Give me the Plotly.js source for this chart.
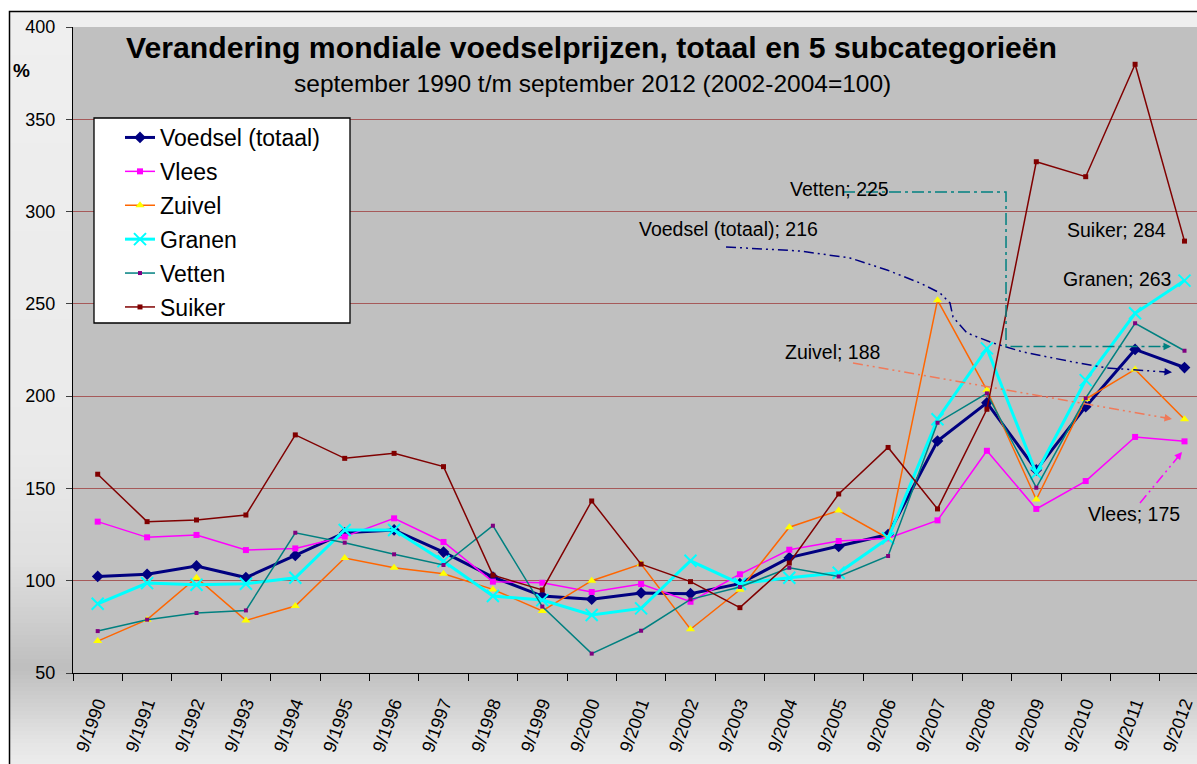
<!DOCTYPE html>
<html>
<head>
<meta charset="utf-8">
<script src="https://cdn.plot.ly/plotly-3.0.1.min.js"></script>
<style>
html,body{margin:0;padding:0;background:#ffffff;}
#chart{width:1197px;height:764px;}
</style>
</head>
<body>
<div id="chart"></div>
<script>
// ---------- data ----------
var categories = ['9/1990','9/1991','9/1992','9/1993','9/1994','9/1995','9/1996','9/1997','9/1998','9/1999','9/2000','9/2001','9/2002','9/2003','9/2004','9/2005','9/2006','9/2007','9/2008','9/2009','9/2010','9/2011','9/2012'];
var voedsel = [102.3,103.5,108,101.7,113.7,126,127.5,115.5,102,91.7,90,93.4,93,98.4,112.5,118.6,125,175.7,196.4,160,194.3,225.3,215.5];
var vlees   = [132,123.5,124.8,116.6,117.5,123.9,133.8,121,99.5,98.9,93.9,98.2,88.6,103.5,116.8,121.5,123,132.7,170.4,138.9,154,177.9,175.5];
var zuivel  = [67.3,78.9,101.6,78.5,86.3,112.3,107,103.8,95.3,83.6,100,109,73.7,95.1,129,138,123,252,203.3,144,198.4,214.5,187.5];
var granen  = [87.5,98.7,97.8,98.4,101.6,127.5,127.5,110.6,91.7,89.5,81.4,85,110.8,98.4,101.6,104.3,123,187.5,225.9,158.2,208.7,244.9,262.6];
var vetten  = [72.7,78.9,82.5,83.9,126,120.6,114.3,108.5,129.8,86,60.5,72.9,89.9,96.6,107,102.3,113.4,185.6,201.5,150.4,198.9,239.5,224.6];
var suiker  = [157.7,132,132.9,135.6,179,166.3,169,161.8,103,95,143.2,109,99.5,85.4,109.6,147,172.2,138.9,192.9,327,318.9,379.8,284];
var seriesNames = ['Voedsel (totaal)','Vlees','Zuivel','Granen','Vetten','Suiker'];
var yTicks = [50,100,150,200,250,300,350,400];
var titleText = 'Verandering mondiale voedselprijzen, totaal en 5 subcategorieën';
var subtitleText = 'september 1990 t/m september 2012 (2002-2004=100)';
var labelTexts = ['Voedsel (totaal); 216','Vetten; 225','Zuivel; 188','Suiker; 284','Granen; 263','Vlees; 175'];

// ---------- geometry helpers (pixel -> axis/paper) ----------
var W = 1197, H = 764, ML = 73, MT = 27, MB = 91;
var PW = W - ML, PH = H - MT - MB;
var catW = 49.4;
function xd(px){ return (px - ML)/catW - 0.5; }
function yd(py){ return 50 + (673 - py)/1.8457; }
function xp(px){ return (px - ML)/PW; }
function yp(py){ return 1 - (py - MT)/PH; }
function pathFrom(pts){
  return pts.map(function(p,i){ return (i?'L':'M') + xd(p[0]).toFixed(3) + ',' + yd(p[1]).toFixed(2); }).join(' ');
}

var FONT = 'Liberation Sans, Arial, sans-serif';

// ---------- traces ----------
var styles = [
  {line:{color:'#000080',width:3}, marker:{symbol:'diamond',size:9,color:'#000080'}},
  {line:{color:'#ff00ff',width:1.5}, marker:{symbol:'square',size:6,color:'#ff00ff'}},
  {line:{color:'#ff6600',width:1.5}, marker:{symbol:'triangle-up',size:8,color:'#ffff00'}},
  {line:{color:'#00ffff',width:3}, marker:{symbol:'x-thin',size:12,color:'#00ffff',line:{color:'#00ffff',width:2}}},
  {line:{color:'#008080',width:1.5}, marker:{symbol:'square',size:4,color:'#800080'}},
  {line:{color:'#800000',width:1.5}, marker:{symbol:'square',size:5,color:'#800000'}}
];
var values = [voedsel, vlees, zuivel, granen, vetten, suiker];
var traces = values.map(function(v,i){
  return {
    type:'scatter', mode:'lines+markers', x:categories, y:v, name:seriesNames[i],
    legendgroup:'g'+i, line:styles[i].line, marker:styles[i].marker, hoverinfo:'x+y+name'
  };
});

// ---------- shapes ----------
var shapes = [];
// background gradient bands (outer chart area)
var stops = [[11,239],[450,234],[560,224],[620,206],[668,190],[700,206],[740,228],[764,236]];
function grayAt(py){
  for(var i=0;i<stops.length-1;i++){
    if(py>=stops[i][0] && py<=stops[i+1][0]){
      var t=(py-stops[i][0])/(stops[i+1][0]-stops[i][0]);
      return Math.round(stops[i][1]+t*(stops[i+1][1]-stops[i][1]));
    }
  }
  return stops[stops.length-1][1];
}
for(var py=11; py<764; py+=4){
  var g = grayAt(py+2);
  shapes.push({type:'rect',xref:'paper',yref:'paper',x0:xp(9),x1:xp(W+2),y0:yp(py),y1:yp(Math.min(py+4.5,766)),
    fillcolor:'rgb('+g+','+g+','+g+')',line:{width:0},layer:'below'});
}
// plot area
shapes.push({type:'rect',xref:'paper',yref:'paper',x0:0,x1:1.01,y0:0,y1:1,fillcolor:'#c0c0c0',line:{width:0},layer:'below'});
// outer border
shapes.push({type:'path',xref:'paper',yref:'paper',path:'M'+xp(9.5)+','+yp(766)+' L'+xp(9.5)+','+yp(11.5)+' L'+xp(W+2)+','+yp(11.5),
  line:{color:'#000000',width:1.5},layer:'below'});
// legend box
shapes.push({type:'rect',xref:'paper',yref:'paper',x0:xp(94),x1:xp(350),y0:yp(323),y1:yp(118),
  fillcolor:'#ffffff',line:{color:'#000000',width:1.3},layer:'above'});
// leader lines
var dashDD = '10px,4px,2px,4px,2px,4px';
var dashD = '12px,4px,3px,4px';
shapes.push({type:'path',xref:'x',yref:'y',layer:'above',line:{color:'#000080',width:1.5,dash:dashDD},
  path:pathFrom([[726,247],[800,251],[850,258],[887,270],[920,283],[940,293],[950,303],[953,317],[967,333],[993,343],[1023,352],[1073,362],[1107,368],[1166,372]])});
shapes.push({type:'path',xref:'x',yref:'y',layer:'above',line:{color:'#008080',width:1.5,dash:dashD},
  path:pathFrom([[843,192],[1006,192],[1006,346.5],[1164,346.5]])});
shapes.push({type:'path',xref:'x',yref:'y',layer:'above',line:{color:'#f07a5a',width:1.5,dash:dashDD},
  path:pathFrom([[853,363],[1166,418]])});
shapes.push({type:'path',xref:'x',yref:'y',layer:'above',line:{color:'#ff00ff',width:1.5,dash:dashDD},
  path:pathFrom([[1140,503],[1178,457]])});

// ---------- annotations ----------
function txt(t,px,py,anchor,size,bold){
  return {text:bold?'<b>'+t+'</b>':t, xref:'paper', yref:'paper', x:xp(px), y:yp(py), xanchor:anchor, yanchor:'middle',
    showarrow:false, font:{family:FONT,size:size,color:'#000000'}};
}
function dtxt(t,px,py,anchor){
  return {text:t, xref:'x', yref:'y', x:xd(px), y:yd(py), xanchor:anchor, yanchor:'middle', showarrow:false,
    font:{family:FONT,size:19.5,color:'#000000'}};
}
function arrowHead(px,py,dx,dy,color){
  return {text:'', xref:'x', yref:'y', x:xd(px), y:yd(py), ax:-dx, ay:-dy, showarrow:true,
    arrowhead:2, arrowsize:1, arrowwidth:1.5, arrowcolor:color};
}
var annotations = [
  txt(titleText,591,47.5,'center',30.2,true),
  txt(subtitleText,592,83,'center',24.5,false),
  txt('%',21.5,70,'center',19,true),
  dtxt(labelTexts[0],637,229,'left'),
  dtxt(labelTexts[1],788,189,'left'),
  dtxt(labelTexts[2],783,352,'left'),
  dtxt(labelTexts[3],1168,230,'right'),
  dtxt(labelTexts[4],1173,278.5,'right'),
  dtxt(labelTexts[5],1182,513.5,'right'),
  arrowHead(1172,372.3,10,0.6,'#000080'),
  arrowHead(1171,346.5,10,0,'#008080'),
  arrowHead(1172,419,9.8,1.7,'#f07a5a'),
  arrowHead(1182,452,6.4,-7.7,'#ff00ff')
];

var layout = {
  width:W, height:H,
  margin:{l:ML, r:0, t:MT, b:MB, pad:0},
  paper_bgcolor:'#ffffff',
  plot_bgcolor:'rgba(0,0,0,0)',
  font:{family:FONT,size:18,color:'#000000'},
  showlegend:true,
  legend:{x:xp(120), y:yp(116), xanchor:'left', yanchor:'top', bgcolor:'rgba(0,0,0,0)', borderwidth:0,
    font:{family:FONT,size:23,color:'#000000'}, traceorder:'grouped', tracegroupgap:1},
  xaxis:{type:'category', categoryorder:'array', categoryarray:categories, range:[-0.5, -0.5 + PW/catW],
    tickson:'boundaries', ticks:'outside', ticklen:7, tickcolor:'#000000', tickwidth:1,
    showline:true, linecolor:'#000000', linewidth:1, showgrid:false, zeroline:false,
    tickangle:-70, tickfont:{family:FONT,size:18,color:'#000000'}, ticklabelstandoff:12, fixedrange:true},
  yaxis:{range:[50,400], tickvals:yTicks, ticks:'outside', ticklen:6, tickcolor:'#404040',
    showline:true, linecolor:'#000000', linewidth:1, showgrid:true, gridcolor:'#a65a5a', gridwidth:1,
    zeroline:false, tickfont:{family:FONT,size:18,color:'#000000'}, ticklabelstandoff:7, fixedrange:true},
  shapes:shapes,
  annotations:annotations
};

Plotly.newPlot('chart', traces, layout, {displayModeBar:false, staticPlot:true});
</script>
</body>
</html>
